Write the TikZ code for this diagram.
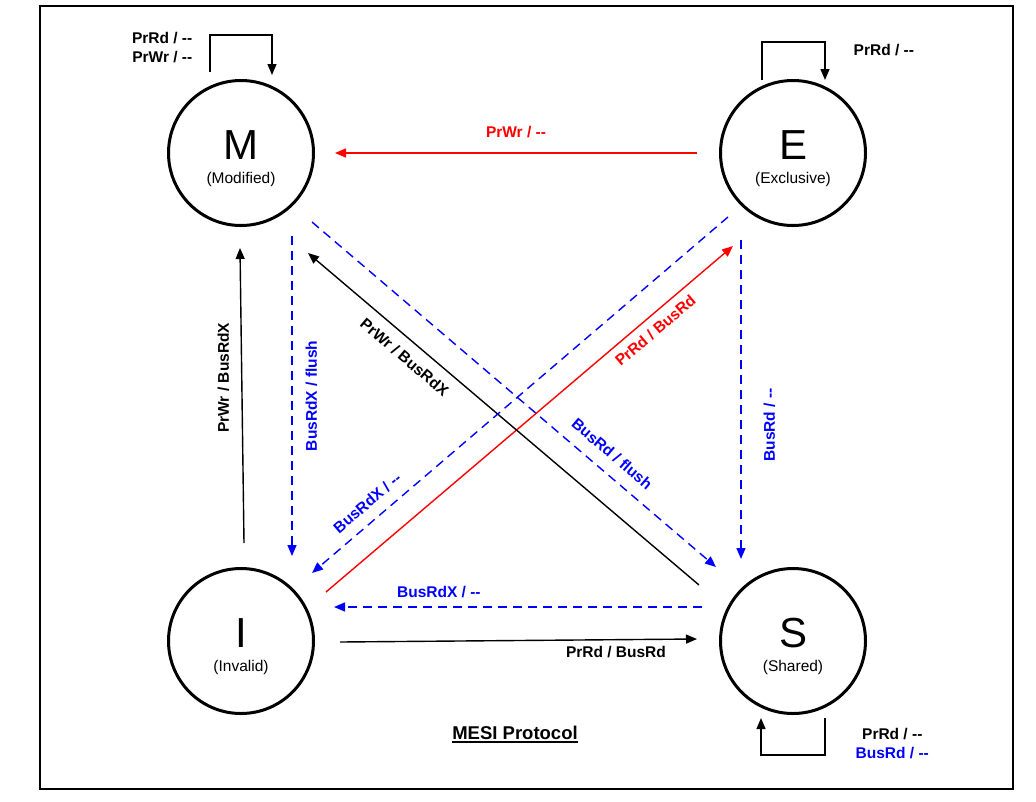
\documentclass[tikz,border=0pt]{standalone}
\usepackage{fontspec}
\setmainfont{Liberation Sans}
\usetikzlibrary{arrows.meta}
\definecolor{busblue}{RGB}{0,0,255}
\definecolor{prred}{RGB}{255,0,0}

\begin{document}
\begin{tikzpicture}[
  x=1pt, y=-1pt,
  state/.style={
    draw,
    circle,
    line width=3pt,
    minimum size=145pt,
    inner sep=0pt
  },
  letter/.style={font=\fontsize{42}{42}\selectfont,inner sep=0pt},
  sub/.style={font=\fontsize{15.5}{19}\selectfont,inner sep=0pt},
  tr/.style={-{Triangle[length=11pt,width=9pt]},line width=1.4pt},
  bus/.style={tr,busblue,dash pattern=on 9pt off 6pt},
  lbl/.style={font=\bfseries\fontsize{15.5}{19}\selectfont,inner sep=2pt}
]
\useasboundingbox (0,0) rectangle (1036,801);
\draw[line width=2pt] (40,6) rectangle (1013,789);

% the four states
\node[state] (M) at (241,153) {};
\node[state] (E) at (793,153) {};
\node[state] (I) at (241,641) {};
\node[state] (S) at (793,641) {};

\node[letter] (Mt) at ([yshift=8pt]M.center) {M};
\node[sub] (Ms) at ([yshift=-26pt]M.center) {(Modified)};
\node[letter] (Et) at ([yshift=8pt]E.center) {E};
\node[sub] (Es) at ([yshift=-26pt]E.center) {(Exclusive)};
\node[letter] (It) at ([yshift=8pt]I.center) {I};
\node[sub] (Is) at ([yshift=-26pt]I.center) {(Invalid)};
\node[letter] (St) at ([yshift=8pt]S.center) {S};
\node[sub] (Ss) at ([yshift=-26pt]S.center) {(Shared)};

% self loops
\draw[tr] ([shift={(-31,-81)}]M.center) -- ++(0,-37)
  node[lbl,pos=0.65,left=15pt,align=right]{PrRd / -{}-\\PrWr / -{}-}
  -- ++(62,0) -- ++(0,40);
\draw[tr] ([shift={(-31,-73)}]E.center) -- ++(0,-38) -- ++(63,0) -- ++(0,38)
  node[lbl,pos=0.2,right=26pt]{PrRd / -{}-};
\draw[tr] ([shift={(32,77)}]S.center) -- ++(0,37)
  node[lbl,pos=0.7,right=28pt,align=center]{PrRd / -{}-\\\color{busblue}BusRd / -{}-}
  -- ++(-64,0) -- ++(0,-37);

% processor transitions
\draw[tr,prred] ([shift={(-96,0)}]E.center) --
  node[lbl,above=12pt]{PrWr / -{}-} ([shift={(94,0)}]M.center);
\draw[tr] ([shift={(3,-98)}]I.center) --
  node[lbl,pos=0.56,rotate=90,above=10pt]{PrWr / BusRdX} ([shift={(-1,95)}]M.center);
\draw[tr,prred] ([shift={(85,-49)}]I.center) --
  node[lbl,pos=0.787,sloped,below=5.5pt]{PrRd / BusRd} ([shift={(-60,93)}]E.center);
\draw[tr] ([shift={(-94,-56)}]S.center) --
  node[lbl,pos=0.725,sloped,below=8.5pt]{PrWr / BusRdX} ([shift={(67,100)}]M.center);
\draw[tr] ([shift={(99,1)}]I.center) --
  node[lbl,pos=0.773,below=4pt]{PrRd / BusRd} ([shift={(-96,-2)}]S.center);

% bus snooping transitions
\draw[bus] ([shift={(51,83)}]M.center) --
  node[lbl,pos=0.5,rotate=90,below=11pt]{BusRdX / flush} ([shift={(51,-85)}]I.center);
\draw[bus] ([shift={(-65,64)}]E.center) --
  node[lbl,pos=0.84,sloped,above=9pt]{BusRdX / -{}-} ([shift={(71,-68)}]I.center);
\draw[bus] ([shift={(71,69)}]M.center) --
  node[lbl,pos=0.713,sloped,above=10pt]{BusRd / flush} ([shift={(-77,-74)}]S.center);
\draw[bus] ([shift={(-52,87)}]E.center) --
  node[lbl,pos=0.58,rotate=90,below=20pt]{BusRd / -{}-} ([shift={(-52,-82)}]S.center);
\draw[bus] ([shift={(-91,-34)}]S.center) --
  node[lbl,pos=0.715,above=6pt]{BusRdX / -{}-} ([shift={(93,-34)}]I.center);

\node[font=\bfseries\fontsize{18.5}{22}\selectfont,inner sep=0pt] (title) at (515,733) {MESI Protocol};
\draw[line width=1.6pt] ([yshift=-2.5pt]title.base west) -- ([yshift=-2.5pt]title.base east);
\end{tikzpicture}
\end{document}
